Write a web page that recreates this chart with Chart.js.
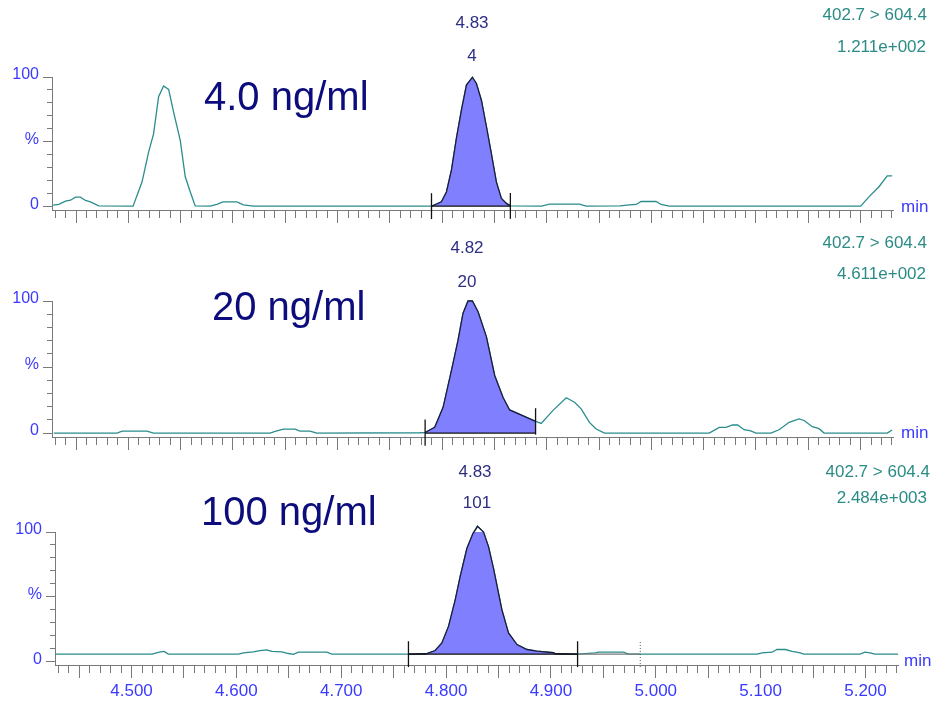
<!DOCTYPE html>
<html>
<head>
<meta charset="utf-8">
<script src="https://cdn.jsdelivr.net/npm/chart.js@4.4.1/dist/chart.umd.min.js"></script>
<style>
  body { margin: 0; background: #fff; font-family: "Liberation Sans", Arial, sans-serif; }
  #wrap { position: relative; width: 931px; height: 701px; overflow: hidden; }
  canvas { position: absolute; left: 0; }
  .txt { position: absolute; white-space: nowrap; line-height: 1; }
  .conc { font-size: 40px; color: #0c0c7c; }
  .peak { font-size: 17px; color: #2e2e84; width: 100px; text-align: center; }
  .mrm { font-size: 17px; color: #2b8b86; text-align: right; }
  .unit { font-size: 17px; color: #3a3aff; }
</style>
</head>
<body>
<div id="wrap">
  <canvas id="panel4" width="931" height="232" style="top:0px"></canvas>
  <canvas id="panel20" width="931" height="226" style="top:230px"></canvas>
  <canvas id="panel100" width="931" height="246" style="top:455px"></canvas>

  <div class="txt conc" style="left:204px;top:76px">4.0 ng/ml</div>
  <div class="txt peak" style="left:422px;top:14px">4.83</div>
  <div class="txt peak" style="left:422px;top:47px">4</div>
  <div class="txt mrm" style="right:4px;top:6px">402.7 &gt; 604.4</div>
  <div class="txt mrm" style="right:5px;top:38px">1.211e+002</div>
  <div class="txt unit" style="left:901px;top:198px">min</div>

  <div class="txt conc" style="left:212px;top:286px">20 ng/ml</div>
  <div class="txt peak" style="left:417px;top:239px">4.82</div>
  <div class="txt peak" style="left:417px;top:273px">20</div>
  <div class="txt mrm" style="right:4px;top:234px">402.7 &gt; 604.4</div>
  <div class="txt mrm" style="right:5px;top:265px">4.611e+002</div>
  <div class="txt unit" style="left:901px;top:424px">min</div>

  <div class="txt conc" style="left:201px;top:491px">100 ng/ml</div>
  <div class="txt peak" style="left:425px;top:463px">4.83</div>
  <div class="txt peak" style="left:427px;top:494px">101</div>
  <div class="txt mrm" style="right:1px;top:463px">402.7 &gt; 604.4</div>
  <div class="txt mrm" style="right:4px;top:489px">2.484e+003</div>
  <div class="txt unit" style="left:904px;top:652px">min</div>
</div>

<script>
const xMin = 4.427;
const xMax = 5.231;
const xLabelValues = [4.5, 4.6, 4.7, 4.8, 4.9, 5.0, 5.1, 5.2];
const xTickLabels = ['4.500', '4.600', '4.700', '4.800', '4.900', '5.000', '5.100', '5.200'];
const yTickValues = [0, 10, 20, 30, 40, 50, 60, 70, 80, 90, 100];
const yTickLabels = ['0', '', '', '', '', '%', '', '', '', '', '100'];

// 4.0 ng/ml trace (% of 1.211e+002)
const times4 = [4.4281, 4.4335, 4.4399, 4.4447, 4.4494, 4.4542, 4.4590, 4.4637, 4.4717, 4.5045,
  4.5131, 4.5194, 4.5241, 4.5289, 4.5337, 4.5385, 4.5432, 4.5496, 4.5544, 4.5592,
  4.5639, 4.5782, 4.5846, 4.5904, 4.6037, 4.6100, 4.6196, 4.7898, 4.7913, 4.7993,
  4.8041, 4.8089, 4.8136, 4.8184, 4.8232, 4.8289, 4.8327, 4.8375, 4.8423, 4.8470,
  4.8518, 4.8566, 4.8614, 4.8652, 4.8950, 4.9027, 4.9313, 4.9377, 4.9700, 4.9790,
  4.9854, 4.9902, 5.0045, 5.0093, 5.0172, 5.2001, 5.2080, 5.2176, 5.2255, 5.2302];
const values4 = [0.8, 1.3, 3.9, 4.6, 7, 7, 4.4, 3.3, 0.2, 0,
  18.8, 42, 56, 84.7, 93, 90.4, 73, 51, 22.7, 11,
  0.2, 0, 1.3, 3.3, 3.3, 1, 0, 0, 0.5, 3.3,
  11, 28, 52.5, 74.4, 93.8, 99.8, 95, 82, 61.5, 40.9,
  18.8, 6, 2.1, 0.2, 0, 1.5, 1.5, 0, 0.2, 1,
  1.3, 3.6, 3.6, 1.3, 0, 0, 7.2, 15, 23.5, 23.5];
const peak4 = [4.7898, 4.8652];
const base4 = 0;

// 20 ng/ml trace (% of 4.611e+002)
const times20 = [4.4287, 4.4892, 4.4940, 4.5178, 4.5241, 4.6355, 4.6403, 4.6482, 4.6594, 4.6641,
  4.6737, 4.6801, 4.7786, 4.7837, 4.7850, 4.7929, 4.8009, 4.8089, 4.8152, 4.8199,
  4.8247, 4.8289, 4.8343, 4.8423, 4.8502, 4.8581, 4.8645, 4.8893, 4.8947, 4.9058,
  4.9186, 4.9265, 4.9329, 4.9408, 4.9472, 4.9552, 5.0553, 5.0649, 5.0713, 5.0776,
  5.0824, 5.0887, 5.0951, 5.0999, 5.1142, 5.1221, 5.1317, 5.1412, 5.1460, 5.1539,
  5.1603, 5.1651, 5.2255, 5.2302];
const values20 = [0, 0, 1.5, 1.5, 0, 0, 1.3, 3, 3, 1.5,
  1.5, 0, 0.2, 0.3, 1, 4.3, 19.5, 47.4, 70.3, 90.6,
  100, 100, 91.9, 72.8, 43.6, 27.1, 17.5, 8.8, 7.3, 17,
  26.7, 23.3, 18.3, 8.1, 3, 0, 0, 4.3, 4.3, 6.1,
  6.1, 2.5, 1.7, 0, 0, 2.5, 8.1, 10.7, 9.5, 4.8,
  3.3, 0, 0, 2.3];
const peak20 = [4.7837, 4.8893];
const base20 = 0;

// 100 ng/ml trace (% of 2.484e+003)
const times100 = [4.4270, 4.5196, 4.5265, 4.5310, 4.5351, 4.6020, 4.6067, 4.6162, 4.6226, 4.6290,
  4.6338, 4.6433, 4.6496, 4.6544, 4.6592, 4.6863, 4.6910, 4.7641, 4.7810, 4.7896,
  4.7960, 4.8023, 4.8087, 4.8134, 4.8198, 4.8256, 4.8300, 4.8357, 4.8405, 4.8452,
  4.8532, 4.8595, 4.8676, 4.8771, 4.8866, 4.9025, 4.9041, 4.9254, 4.9423, 4.9454,
  4.9693, 4.9740, 5.0966, 5.1013, 5.1109, 5.1156, 5.1236, 5.1300, 5.1379, 5.1410,
  5.1947, 5.1995, 5.2043, 5.2090, 5.2311];
const values100 = [5.4, 5.4, 6.9, 7.5, 5.4, 5.4, 6.4, 7.2, 8.2, 8.7,
  7.5, 7.2, 5.9, 5.2, 6.9, 6.9, 5.4, 5.4, 5.7, 8.2,
  14.1, 26.9, 47.5, 65.4, 87.2, 98.8, 104.4, 100, 88.5, 71.8,
  39.8, 21.8, 12.8, 9, 7.7, 6.5, 5.7, 5.4, 6.4, 6.9,
  6.9, 5.4, 5.4, 6.4, 6.9, 9, 9, 7.5, 6.4, 5.4,
  5.4, 6.9, 6.4, 5.4, 5.4];
const peak100 = [4.7641, 4.9254];
const base100 = 5.4;
const secondMark100 = 4.9852;

const traceColor = '#2a8c8c';
const axisColor = '#7a7a7a';
const blue = '#3a3aff';

// minor ticks every 0.01, major every 0.05
const xTickValues = [];
for (let i = 443; i <= 523; i++) xTickValues.push(i / 100);

function toPoints(times, values) {
  return times.map((t, i) => ({x: t, y: values[i]}));
}

function peakPoints(times, values, range) {
  return toPoints(times, values).filter((p) => p.x >= range[0] - 1e-9 && p.x <= range[1] + 1e-9);
}

function valueAt(times, values, t) {
  return values[times.indexOf(t)];
}

function markerSet(t, center, dash) {
  return {
    data: [{x: t, y: center - 10}, {x: t, y: center + 10}],
    borderColor: dash ? '#555' : '#111',
    borderWidth: dash ? 1 : 1.3,
    borderDash: dash ? [1, 2] : [],
    order: 1,
    clip: false
  };
}

function buildScales(opts) {
  return {
    x: {
      type: 'linear', min: xMin, max: xMax,
      afterBuildTicks: (scale) => { scale.ticks = xTickValues.map((v) => ({value: v})); },
      afterFit: (scale) => { scale.height = opts.xHeight; },
      border: {color: axisColor},
      grid: {
        drawOnChartArea: false, tickLength: 13, tickColor: axisColor,
        tickBorderDash: (ctx) => (ctx.tick && Math.round(ctx.tick.value * 100) % 5 !== 0) ? [7, 100] : []
      },
      ticks: {
        autoSkip: false, maxRotation: 0, padding: 3, color: blue,
        font: {size: 17},
        callback: (v) => {
          if (!opts.showLabels) return '';
          const i = xLabelValues.findIndex((l) => Math.abs(l - v) < 1e-6);
          return i >= 0 ? xTickLabels[i] : '';
        }
      }
    },
    y: {
      min: -3, max: 100,
      afterBuildTicks: (scale) => { scale.ticks = yTickValues.map((v) => ({value: v})); },
      afterFit: (scale) => { scale.width = opts.yWidth; },
      border: {color: axisColor},
      grid: {
        drawOnChartArea: false, tickLength: 9, tickColor: axisColor,
        tickBorderDash: (ctx) => {
          if (!ctx.tick) return [];
          return yTickLabels[yTickValues.indexOf(ctx.tick.value)] ? [] : [0, 4, 5, 100];
        }
      },
      ticks: {
        autoSkip: false, padding: 4, labelOffset: -2, color: blue,
        font: {size: 16},
        callback: (v) => yTickLabels[yTickValues.indexOf(v)] || ''
      }
    }
  };
}

function makePanel(id, times, values, range, base, opts) {
  const startVal = valueAt(times, values, range[0]);
  const endVal = valueAt(times, values, range[1]);
  const datasets = [
    {data: toPoints(times, values), borderColor: traceColor, borderWidth: 1.3, order: 4, clip: false},
    {
      data: peakPoints(times, values, range), borderColor: '#1c1c3a', borderWidth: 1.3,
      backgroundColor: '#8080ff', fill: {value: base}, order: 3, clip: false
    },
    {data: [{x: range[0], y: base}, {x: range[1], y: base}], borderColor: '#111', borderWidth: 1.2, order: 2},
    markerSet(range[0], startVal),
    markerSet(range[1], endVal)
  ];
  (opts.extra || []).forEach((d) => datasets.push(d));

  return new Chart(document.getElementById(id), {
    type: 'line',
    data: {datasets: datasets},
    options: {
      responsive: false,
      animation: false,
      events: [],
      layout: {padding: {top: opts.top, right: opts.right, left: 0, bottom: 0}},
      elements: {point: {radius: 0}, line: {tension: 0, fill: false}},
      plugins: {legend: {display: false}, tooltip: {enabled: false}},
      scales: buildScales(opts)
    }
  });
}

function mainEvent() {
  Chart.defaults.font.family = '"Liberation Sans", Arial, sans-serif';

  makePanel('panel4', times4, values4, peak4, base4,
    {top: 77, right: 38, yWidth: 52, xHeight: 22, showLabels: false});

  makePanel('panel20', times20, values20, peak20, base20,
    {top: 71, right: 38, yWidth: 52, xHeight: 19, showLabels: false});

  makePanel('panel100', times100, values100, peak100, base100, {
    top: 77, right: 33, yWidth: 55, xHeight: 36, showLabels: true,
    extra: [
      {data: [{x: peak100[1], y: base100}, {x: secondMark100, y: base100}], borderColor: '#777', borderWidth: 1.2, order: 2},
      markerSet(secondMark100, base100, true)
    ]
  });
}

document.addEventListener('DOMContentLoaded', () => mainEvent());
</script>
</body>
</html>
